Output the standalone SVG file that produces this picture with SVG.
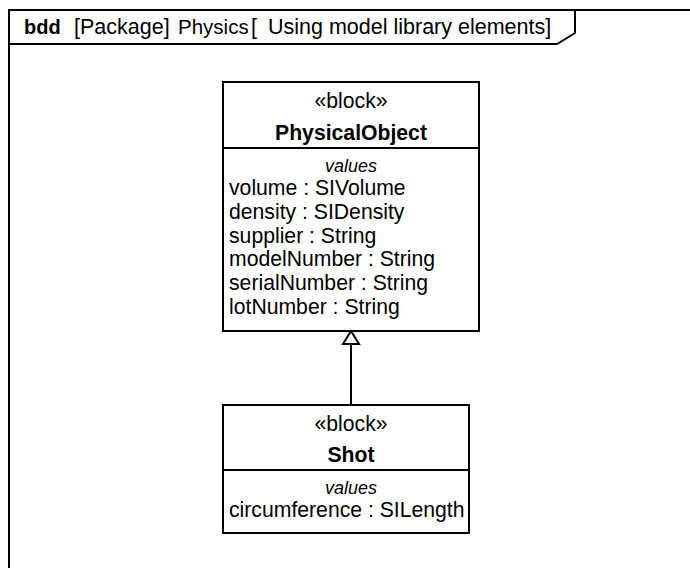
<svg xmlns="http://www.w3.org/2000/svg" width="690" height="568" viewBox="0 0 690 568">
<style>
text{font-family:"Liberation Sans",Arial,sans-serif;fill:#000;}
.t{font-size:21.2px;}
.h{font-size:21.5px;}
.b{font-weight:bold;}
.c{text-anchor:middle;}
.v{font-size:18px;font-style:italic;text-anchor:middle;}
.box{fill:#fff;stroke:#000;stroke-width:2;}
.ln{fill:none;stroke:#000;stroke-width:2;}
</style>
<rect width="690" height="568" fill="#fff"/>
<g id="frame">
<path class="ln" d="M9,580 V10 H700"/>
<path class="ln" d="M9,44 H557 L575,33 V10"/>
<text class="h" y="34"><tspan x="24" class="b" font-size="20">bdd</tspan><tspan x="74">[Package]</tspan><tspan x="178" font-size="20.5">Physics</tspan><tspan x="251">[</tspan><tspan x="268">Using model library elements]</tspan></text>
</g>
<g id="connectors">
<path class="ln" d="M351,344 V405"/>
<path class="ln" d="M351,331 L343,344 H359 Z" fill="#fff"/>
</g>
<g id="PhysicalObject">
<rect class="box" x="223" y="82" width="256" height="249"/>
<path class="ln" d="M223,148 H479"/>
<text class="t c" x="351" y="108">«block»</text>
<text class="t c b" x="351" y="140">PhysicalObject</text>
<text class="v" x="351" y="172">values</text>
<text class="t" x="229" y="195">volume : SIVolume</text>
<text class="t" x="229" y="219">density : SIDensity</text>
<text class="t" x="229" y="243">supplier : String</text>
<text class="t" x="229" y="266">modelNumber : String</text>
<text class="t" x="229" y="290">serialNumber : String</text>
<text class="t" x="229" y="314">lotNumber : String</text>
</g>
<g id="Shot">
<rect class="box" x="223" y="405" width="246" height="128"/>
<path class="ln" d="M223,470 H469"/>
<text class="t c" x="351" y="431">«block»</text>
<text class="t c b" x="351" y="462">Shot</text>
<text class="v" x="351" y="494">values</text>
<text class="t" x="229" y="517">circumference : SILength</text>
</g>
</svg>
